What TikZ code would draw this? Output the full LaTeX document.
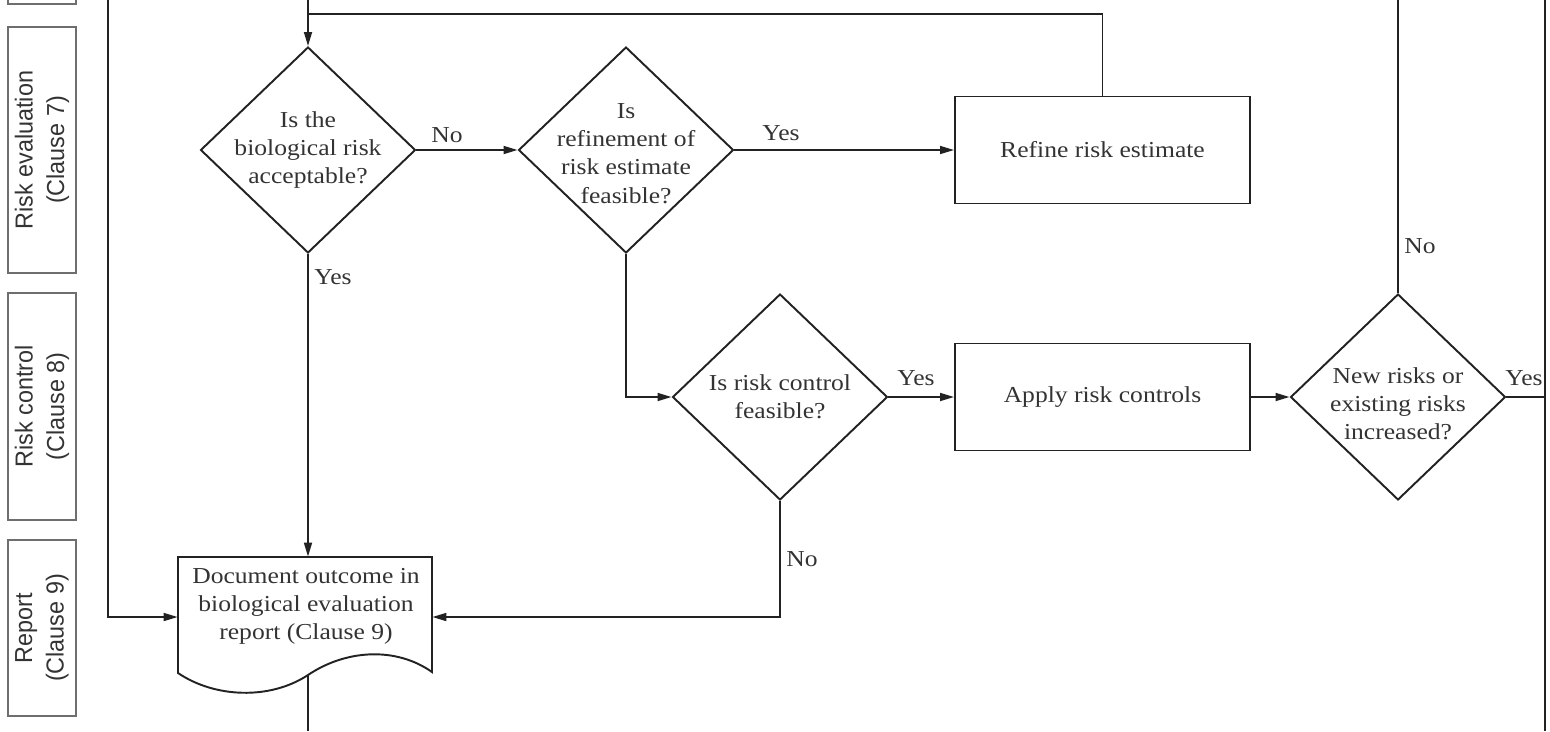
\documentclass[tikz,border=0pt]{standalone}
\usepackage{fontspec}
\setmainfont{Liberation Serif}[FakeStretch=1.12]
\newfontfamily\sidefont{Liberation Sans}[FakeStretch=0.95]
\usetikzlibrary{shapes.geometric,arrows.meta}
\definecolor{ink}{HTML}{222222}
\definecolor{txt}{HTML}{333333}
\definecolor{sidegray}{HTML}{6E6E6E}
\begin{document}
\begin{tikzpicture}[x=0.02cm,y=-0.02cm,
  every node/.style={text=txt},
  flow/.style={draw=ink,line width=1.1pt},
  arr/.style={flow,-{Triangle[length=8pt,width=4.5pt]}},
  dtext/.style={align=center,inner sep=0pt,font=\fontsize{13}{16}\selectfont},
  dec/.style={diamond,draw=ink,line width=1.1pt,minimum width=4.3cm,minimum height=4.12cm,inner sep=0pt},
  proc/.style={rectangle,draw=ink,line width=1.1pt,minimum width=5.9cm,minimum height=2.14cm,
    font=\fontsize{13}{16}\selectfont},
  lane/.style={rectangle,draw=sidegray,line width=1.5pt,minimum height=1.36cm,align=center,
    rotate=90,text=txt,font=\sidefont\fontsize{14}{18}\selectfont},
  lbl/.style={inner sep=0pt,font=\fontsize{13}{16}\selectfont}
]
\useasboundingbox (0,0) rectangle (1550,731);
\clip (0,0) rectangle (1550,731);

% swim-lane captions
\draw[sidegray,line width=1.5pt] (8,-20) rectangle (76,4);
\node[lane,minimum width=4.92cm] (lane1) at (42,150) {Risk evaluation\\(Clause 7)};
\node[lane,minimum width=4.54cm] (lane2) at (42,406.5) {Risk control\\(Clause 8)};
\node[lane,minimum width=3.52cm] (lane3) at (42,628) {Report\\(Clause 9)};

% decisions and process steps
\node[dec,label={[dtext]center:{Is the\\biological risk\\acceptable?}}] (d1) at (308,150) {};
\node[dec,label={[dtext,yshift=-2pt]center:{Is\\refinement of\\risk estimate\\feasible?}}] (d2) at (626,150) {};
\node[proc] (refine) at (1102.5,150) {Refine risk estimate};
\node[dec,label={[dtext]center:{Is risk control\\feasible?}}] (d3) at (780,397) {};
\node[proc] (apply) at (1102.5,397) {Apply risk controls};
\node[dec,label={[dtext,yshift=-4pt]center:{New risks or\\existing risks\\increased?}}] (d4) at (1398,397) {};

% report document
\node[minimum width=5.08cm,minimum height=2.4cm,inner sep=0pt] (doc) at (305,617) {};
\draw[flow] (178,557) -- (432,557) -- (432,672)
  .. controls (395,646) and (345,650) .. (308,675)
  .. controls (270,700) and (215,698) .. (178,673) -- cycle;
\node[dtext] (doctext) at (306,606) {Document outcome in\\biological evaluation\\report (Clause 9)};

% free ends
\coordinate (intop) at (308,0);
\coordinate (loop) at (308,14);
\coordinate (noout) at (1398,0);
\coordinate (yesout) at (1545,397);
\coordinate (rtop) at (1545,0);
\coordinate (rbot) at (1545,731);
\coordinate (ltop) at (108,0);
\coordinate (docbot) at (308,675);
\coordinate (outbot) at (308,731);

% connectors
\draw[arr] (intop) -- (d1.north);
\draw[flow] (refine.north) |- (loop);
\draw[arr] (d1.east) -- (d2.west);
\draw[arr] (d2.east) -- (refine.west);
\draw[arr] (d2.south) |- (d3.west);
\draw[arr] (d3.east) -- (apply.west);
\draw[arr] (apply.east) -- (d4.west);
\draw[flow] (d4.north) -- (noout);
\draw[flow] (d4.east) -- (yesout);
\draw[flow] (rtop) -- (rbot);
\draw[arr] (d3.south) |- (doc.east);
\draw[arr] (d1.south) -- (d1.south |- doc.north);
\draw[arr] (ltop) |- (doc.west);
\draw[flow] (docbot) -- (outbot);

% branch labels
\node[lbl] (l1) at (447,135) {No};
\node[lbl] (l2) at (781,133) {Yes};
\node[lbl] (l3) at (333,277) {Yes};
\node[lbl] (l4) at (916,378) {Yes};
\node[lbl] (l5) at (802,559) {No};
\node[lbl] (l6) at (1420,246) {No};
\node[lbl] (l7) at (1524,378) {Yes};
\end{tikzpicture}
\end{document}
